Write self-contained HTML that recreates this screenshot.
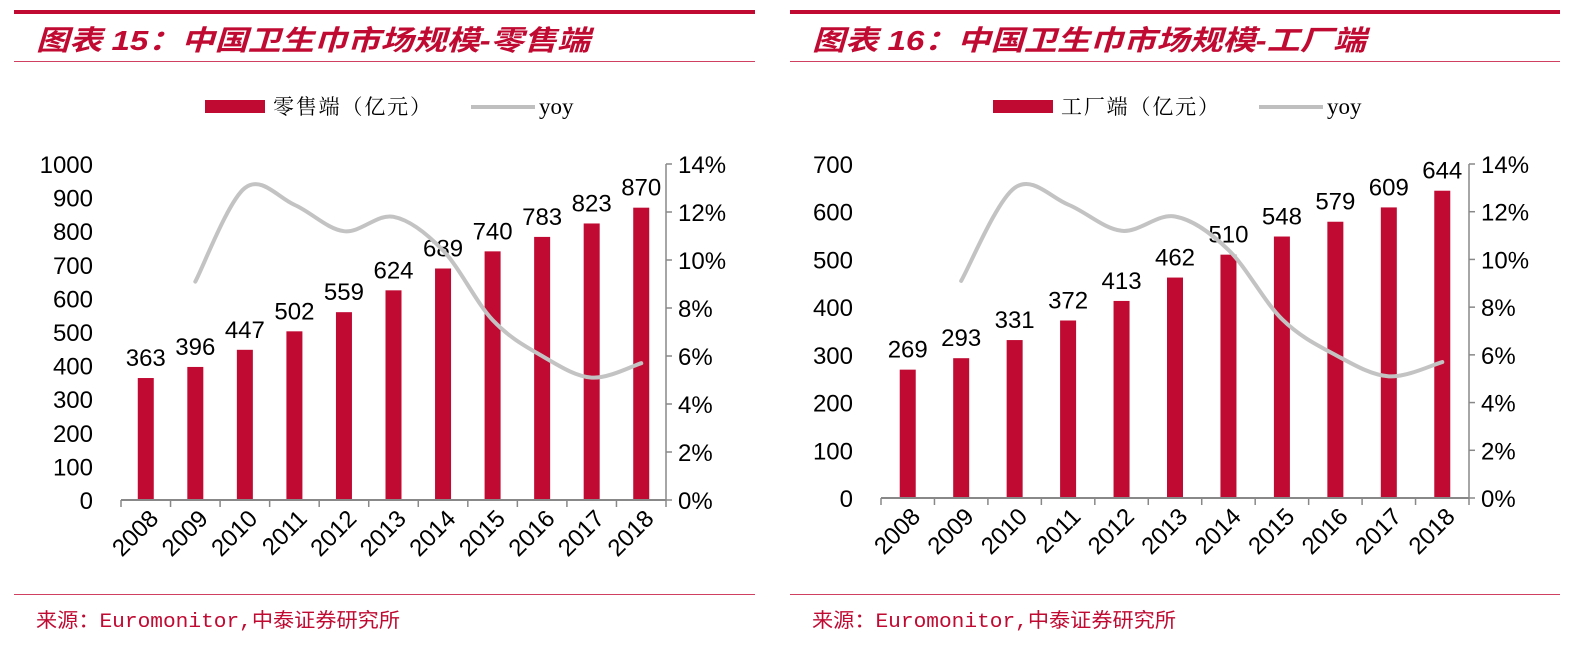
<!DOCTYPE html>
<html><head><meta charset="utf-8">
<style>
body{margin:0;width:1570px;height:648px;background:#fff;overflow:hidden;font-family:"Liberation Sans","Noto Sans CJK SC",sans-serif;}
svg{position:absolute;left:0;top:0}
</style></head>
<body>
<svg id="c" width="1570" height="648"></svg>
<script>
const years=["2008","2009","2010","2011","2012","2013","2014","2015","2016","2017","2018"];
const retailValues=[363,396,447,502,559,624,689,740,783,823,870];
const factoryValues=[269,293,331,372,413,462,510,548,579,609,644];
const yoyRetail=[null,9.1,13.0,12.3,11.2,11.8,10.4,7.5,6.0,5.1,5.7];
const yoyFactory=[null,9.1,13.0,12.3,11.2,11.8,10.4,7.5,6.0,5.1,5.7];
const leftTicksA=[0,100,200,300,400,500,600,700,800,900,1000];
const leftTicksB=[0,100,200,300,400,500,600,700];
const rightTicks=[0,2,4,6,8,10,12,14];

const svg=document.getElementById('c');
const NS='http://www.w3.org/2000/svg';
function mk(tag,attrs,parent,txt){const e=document.createElementNS(NS,tag);for(const k in attrs)e.setAttribute(k,attrs[k]);if(txt!=null)e.textContent=txt;(parent||svg).appendChild(e);return e;}

function chart(o){
  const g=mk('g',{});
  
  
  const RED='#c00a32',F='"Liberation Sans","Noto Sans CJK SC",sans-serif';
  let e=mk('rect',{x:o.px,y:10,width:o.pw,height:4,fill:RED},g);
  
  e=mk('text',{x:o.px+22,y:50,'font-size':28,'font-weight':'bold','font-style':'italic',fill:RED,'font-family':F,textLength:554,lengthAdjust:'spacingAndGlyphs'},g,o.title);
  
  e=mk('rect',{x:o.px,y:61,width:o.pw,height:1,fill:'#d04060'},g);
  
  e=mk('rect',{x:o.lx,y:100,width:60,height:13,fill:RED},g);
  
  e=mk('text',{x:o.lx+68,y:114,'font-size':21,fill:'#000','font-family':'"Liberation Serif","Noto Serif CJK SC",serif',textLength:158,lengthAdjust:'spacing'},g,o.legend);
  
  e=mk('line',{x1:o.lx+266,x2:o.lx+330,y1:107,y2:107,stroke:'#bfbfbf','stroke-width':4},g);
  
  e=mk('text',{x:o.lx+334,y:114,'font-size':23,fill:'#000','font-family':'"Liberation Serif",serif'},g,'yoy');
  

  const x0=o.x0,x1=o.x1,y0=o.y0,yt=o.yt,maxL=o.maxL;
  const step=(x1-x0)/years.length;
  const xs=i=>x0+step*(i+0.5);
  const yl=v=>y0-(y0-yt)*v/maxL;
  const yr=v=>y0-(y0-yt)*v/14;
  o.lticks.forEach(t=>{e=mk('text',{x:x0-28,y:yl(t)+9,'font-size':24,'text-anchor':'end',fill:'#000','font-family':F},g,String(t));
    });
  rightTicks.forEach(t=>{
    e=mk('line',{x1:x1,x2:x1+6,y1:yr(t),y2:yr(t),stroke:'#888','stroke-width':1.5},g);
    
    e=mk('text',{x:x1+12,y:yr(t)+9,'font-size':24,fill:'#000','font-family':F},g,t+'%');
    });
  e=mk('line',{x1:x1,x2:x1,y1:yt,y2:y0,stroke:'#888','stroke-width':1.5},g);
  
  o.values.forEach((v,i)=>{
    e=mk('rect',{x:xs(i)-8,y:yl(v),width:16,height:y0-yl(v),fill:RED},g);
    
    e=mk('text',{x:xs(i),y:yl(v)-12,'font-size':24,'text-anchor':'middle',fill:'#000','font-family':F},g,String(v));
    
  });
  e=mk('line',{x1:x0,x2:x1,y1:y0,y2:y0,stroke:'#888','stroke-width':2},g);
  
  for(let i=0;i<=years.length;i++){
    e=mk('line',{x1:x0+step*i,x2:x0+step*i,y1:y0,y2:y0+7,stroke:'#888','stroke-width':1.5},g);
    }
  years.forEach((yv,i)=>{
    e=mk('text',{x:0,y:0,'font-size':24,'text-anchor':'end',fill:'#000','font-family':F,transform:`translate(${xs(i)+14},${y0+20}) rotate(-45)`},g,yv);
    });
  const pts=[];o.yoy.forEach((v,i)=>{if(v!=null)pts.push([xs(i),yr(v)]);});
  let d='M'+pts[0][0]+','+pts[0][1];
  for(let i=0;i<pts.length-1;i++){
    const p0=pts[Math.max(0,i-1)],p1=pts[i],p2=pts[i+1],p3=pts[Math.min(pts.length-1,i+2)];
    const c1=[p1[0]+(p2[0]-p0[0])/6,p1[1]+(p2[1]-p0[1])/6],c2=[p2[0]-(p3[0]-p1[0])/6,p2[1]-(p3[1]-p1[1])/6];
    d+=` C${c1[0]},${c1[1]} ${c2[0]},${c2[1]} ${p2[0]},${p2[1]}`;}
  e=mk('path',{d:d,fill:'none',stroke:'#c3c3c3','stroke-width':4,'stroke-linecap':'round'},g);
  
  e=mk('rect',{x:o.px,y:594,width:o.pw,height:1,fill:'#d04060'},g);
  
  e=mk('text',{x:o.px+22,y:627,'font-size':20,fill:RED,'font-family':'"Liberation Mono","Noto Sans CJK SC",monospace',textLength:364,lengthAdjust:'spacingAndGlyphs'},g,'来源：Euromonitor,中泰证券研究所');
  
}
chart({name:'retail-chart',px:14,pw:741,title:'图表 15：中国卫生巾市场规模-零售端',legend:'零售端（亿元）',lx:205,
  x0:121,x1:666,y0:500,yt:164,maxL:1000,lticks:leftTicksA,values:retailValues,yoy:yoyRetail});
chart({name:'factory-chart',px:790,pw:770,title:'图表 16：中国卫生巾市场规模-工厂端',legend:'工厂端（亿元）',lx:993,
  x0:881,x1:1469,y0:498,yt:164,maxL:700,lticks:leftTicksB,values:factoryValues,yoy:yoyFactory});
</script>
</body></html>
